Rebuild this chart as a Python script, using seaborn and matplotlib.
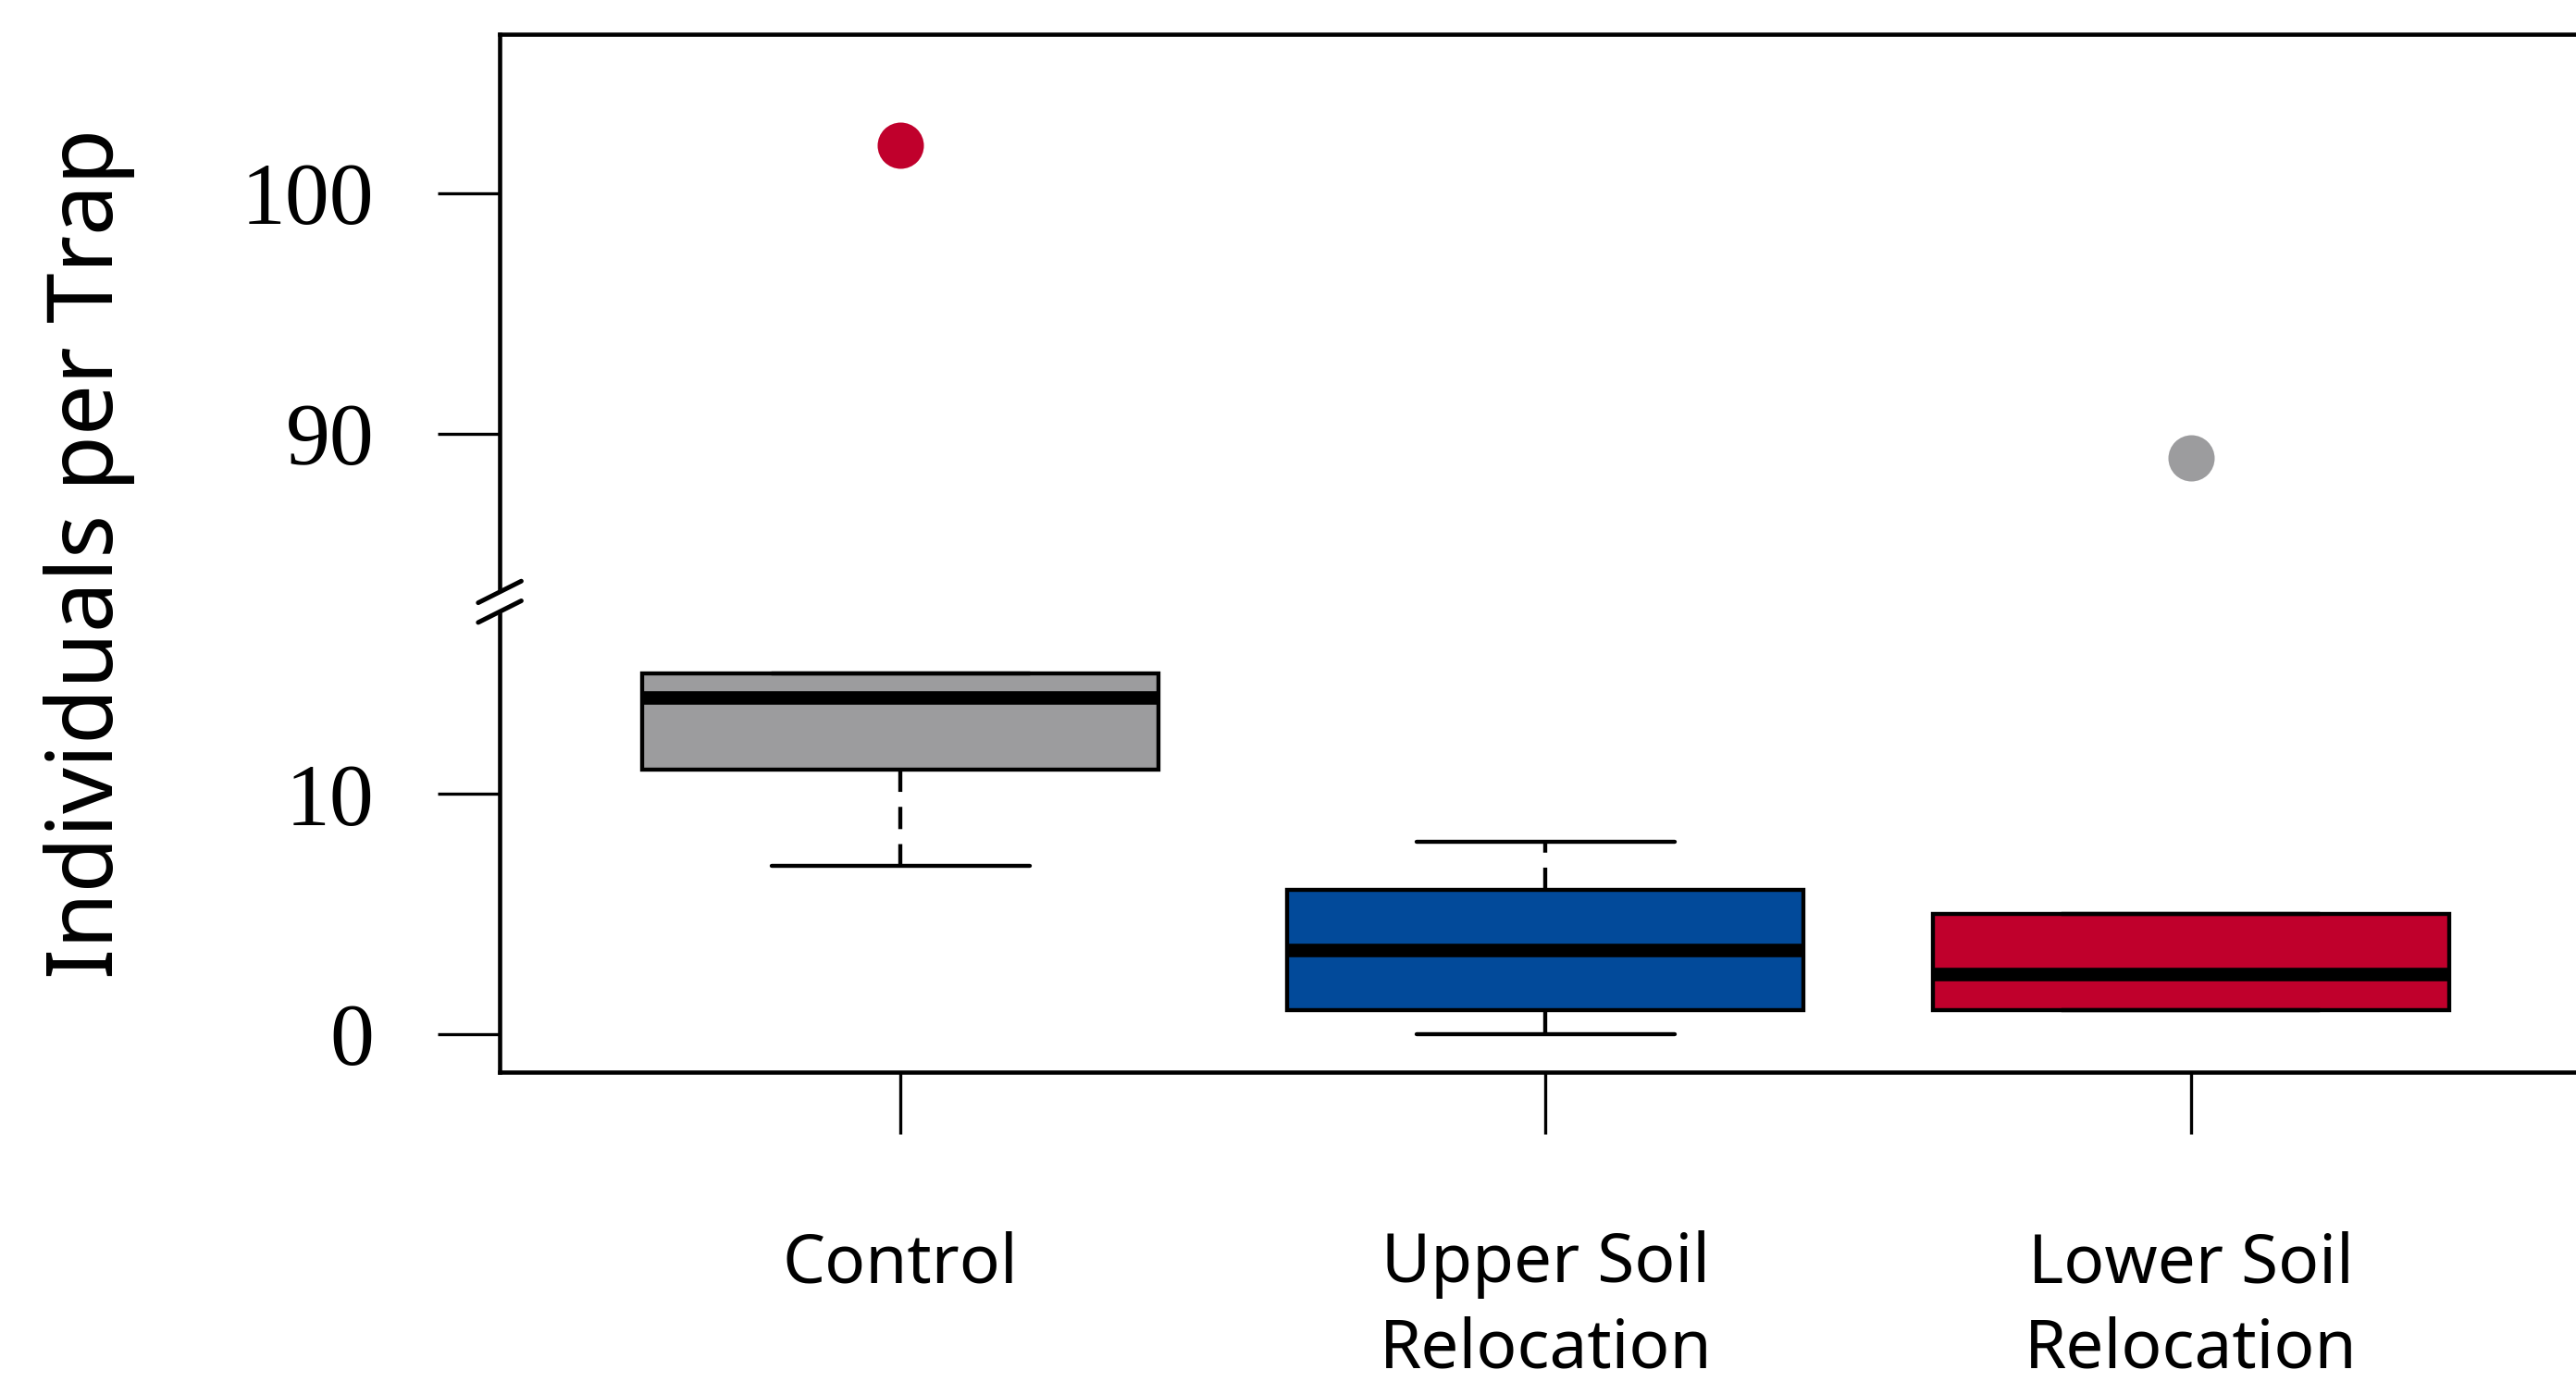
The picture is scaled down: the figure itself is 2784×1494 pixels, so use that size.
import numpy as np
import pandas as pd
import seaborn as sns
import matplotlib.pyplot as plt

# ------------------------------- Data ----------------------------------------------

CATEGORIES = ["Control", "Upper Soil\nRelocation", "Lower Soil\nRelocation"]
BOX_COLORS = ["#9c9c9e", "#024a9a", "#c0002c"]
OUTLIER_COLORS = ["#c0002c", "#024a9a", "#9c9c9e"]

# individuals per trap, read back from the box statistics
control = [7, 11, 11, 14, 14, 15, 15, 102]
upper_soil = [0, 1, 1, 3, 4, 6, 6, 8]
lower_soil = [1, 1, 1, 2, 3, 5, 5, 89]

YTICKS = [0, 10, 90, 100]
GAP = (18, 83)  # range cut out of the y axis


def squeeze(values):
    """Shift values above the gap down so the axis skips GAP"""
    v = np.asarray(values, dtype=float)
    return np.where(v > GAP[1], v - (GAP[1] - GAP[0]), v)


def is_outlier(s):
    q1, q3 = np.percentile(s, [25, 75])
    iqr = q3 - q1
    return (s < q1 - 1.5 * iqr) | (s > q3 + 1.5 * iqr)


df = pd.DataFrame({
    "treatment": np.repeat(CATEGORIES, [len(control), len(upper_soil), len(lower_soil)]),
    "count": np.concatenate([control, upper_soil, lower_soil]),
})
df["y"] = squeeze(df["count"])
df["outlier"] = df.groupby("treatment", sort=False)["y"].transform(is_outlier).astype(bool)

# ------------------------------- Plot ----------------------------------------------

sns.set_theme(style="ticks", rc={"axes.edgecolor": "black", "xtick.color": "black",
                                 "ytick.color": "black", "text.color": "black",
                                 "axes.labelcolor": "black", "axes.linewidth": 1.1})
plt.rcParams["font.family"] = ["Noto Sans", "DejaVu Sans"]

fig = plt.figure(figsize=(9.28, 4.98), dpi=300)
ax = fig.add_axes([0.194, 0.224, 0.812, 0.7515])

sns.boxplot(data=df, x="treatment", y="y", hue="treatment", order=CATEGORIES,
            hue_order=CATEGORIES, palette=BOX_COLORS, saturation=1, width=0.8,
            showfliers=False, linecolor="black", linewidth=1.05,
            medianprops=dict(linewidth=3.5),
            whiskerprops=dict(linestyle=(0, (5.5, 3.7))),
            legend=False, ax=ax)
sns.stripplot(data=df[df["outlier"]], x="treatment", y="y", hue="treatment",
              order=CATEGORIES, hue_order=CATEGORIES, palette=OUTLIER_COLORS,
              jitter=False, size=12, linewidth=0, legend=False, ax=ax)

ax.set_xlim(-0.621, 2.621)
ax.set_ylim(-1.59, 41.64)
ax.set_yticks(squeeze(YTICKS))
ax.set_yticklabels([str(v) for v in YTICKS], family=["Liberation Serif"], fontsize=23)
ax.tick_params(axis="y", length=16, width=0.8, pad=16.5)
ax.tick_params(axis="x", length=16, width=0.8, pad=25, labelsize=17.5)
for lbl in ax.get_xticklabels():
    lbl.set_linespacing(1.33)
ax.set_xlabel("")
ax.set_ylabel("Individuals per Trap", fontsize=23.5)
ax.yaxis.set_label_coords(-0.1745, 0.5)

# axis break marks "//"
trans = ax.get_yaxis_transform()
hw, off, rise = 0.0103, 0.41, 0.45
ax.fill([-hw, hw, hw, -hw],
        [GAP[0] - off - rise, GAP[0] - off + rise, GAP[0] + off + rise, GAP[0] + off - rise],
        color="white", transform=trans, clip_on=False, zorder=5)
for o in (-off, off):
    ax.plot([-hw, hw], [GAP[0] + o - rise, GAP[0] + o + rise], color="black", lw=1.2,
            transform=trans, clip_on=False, zorder=6, solid_capstyle="round")

fig.savefig("out.png", dpi=300)
